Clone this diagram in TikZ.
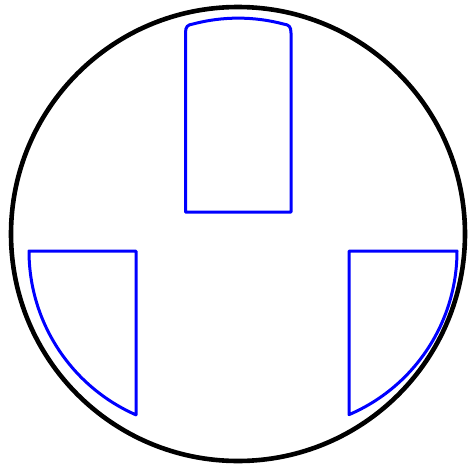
\documentclass[tikz,border=0pt]{standalone}
\usepackage{tikz}

\begin{document}
\begin{tikzpicture}[x=1pt,y=-1pt,line join=round,
    rim/.style={draw=black,line width=4.6pt},
    part/.style={draw=blue,line width=3pt}]
    \useasboundingbox (0,0) rectangle (467,469);
    % outer disc
    \draw[rim] (238,234) circle[radius=227];
    % upper slot
    \draw[part] (185.5,212) -- (185.5,33) .. controls (185.5,26.5) and (187.5,24.8) .. (193,24)
      arc[start angle=-104.8,end angle=-75.2,radius=177]
      .. controls (289,24.8) and (291,26.5) .. (291,33) -- (291,212) -- cycle;
    % left segment
    \draw[part] (136,251) -- (29,251) arc[start angle=180,end angle=113.7,radius=179] -- cycle;
    % right segment
    \draw[part] (349,251) -- (457,251) arc[start angle=0,end angle=66.84,radius=178] -- cycle;
  \end{tikzpicture}
\end{document}
